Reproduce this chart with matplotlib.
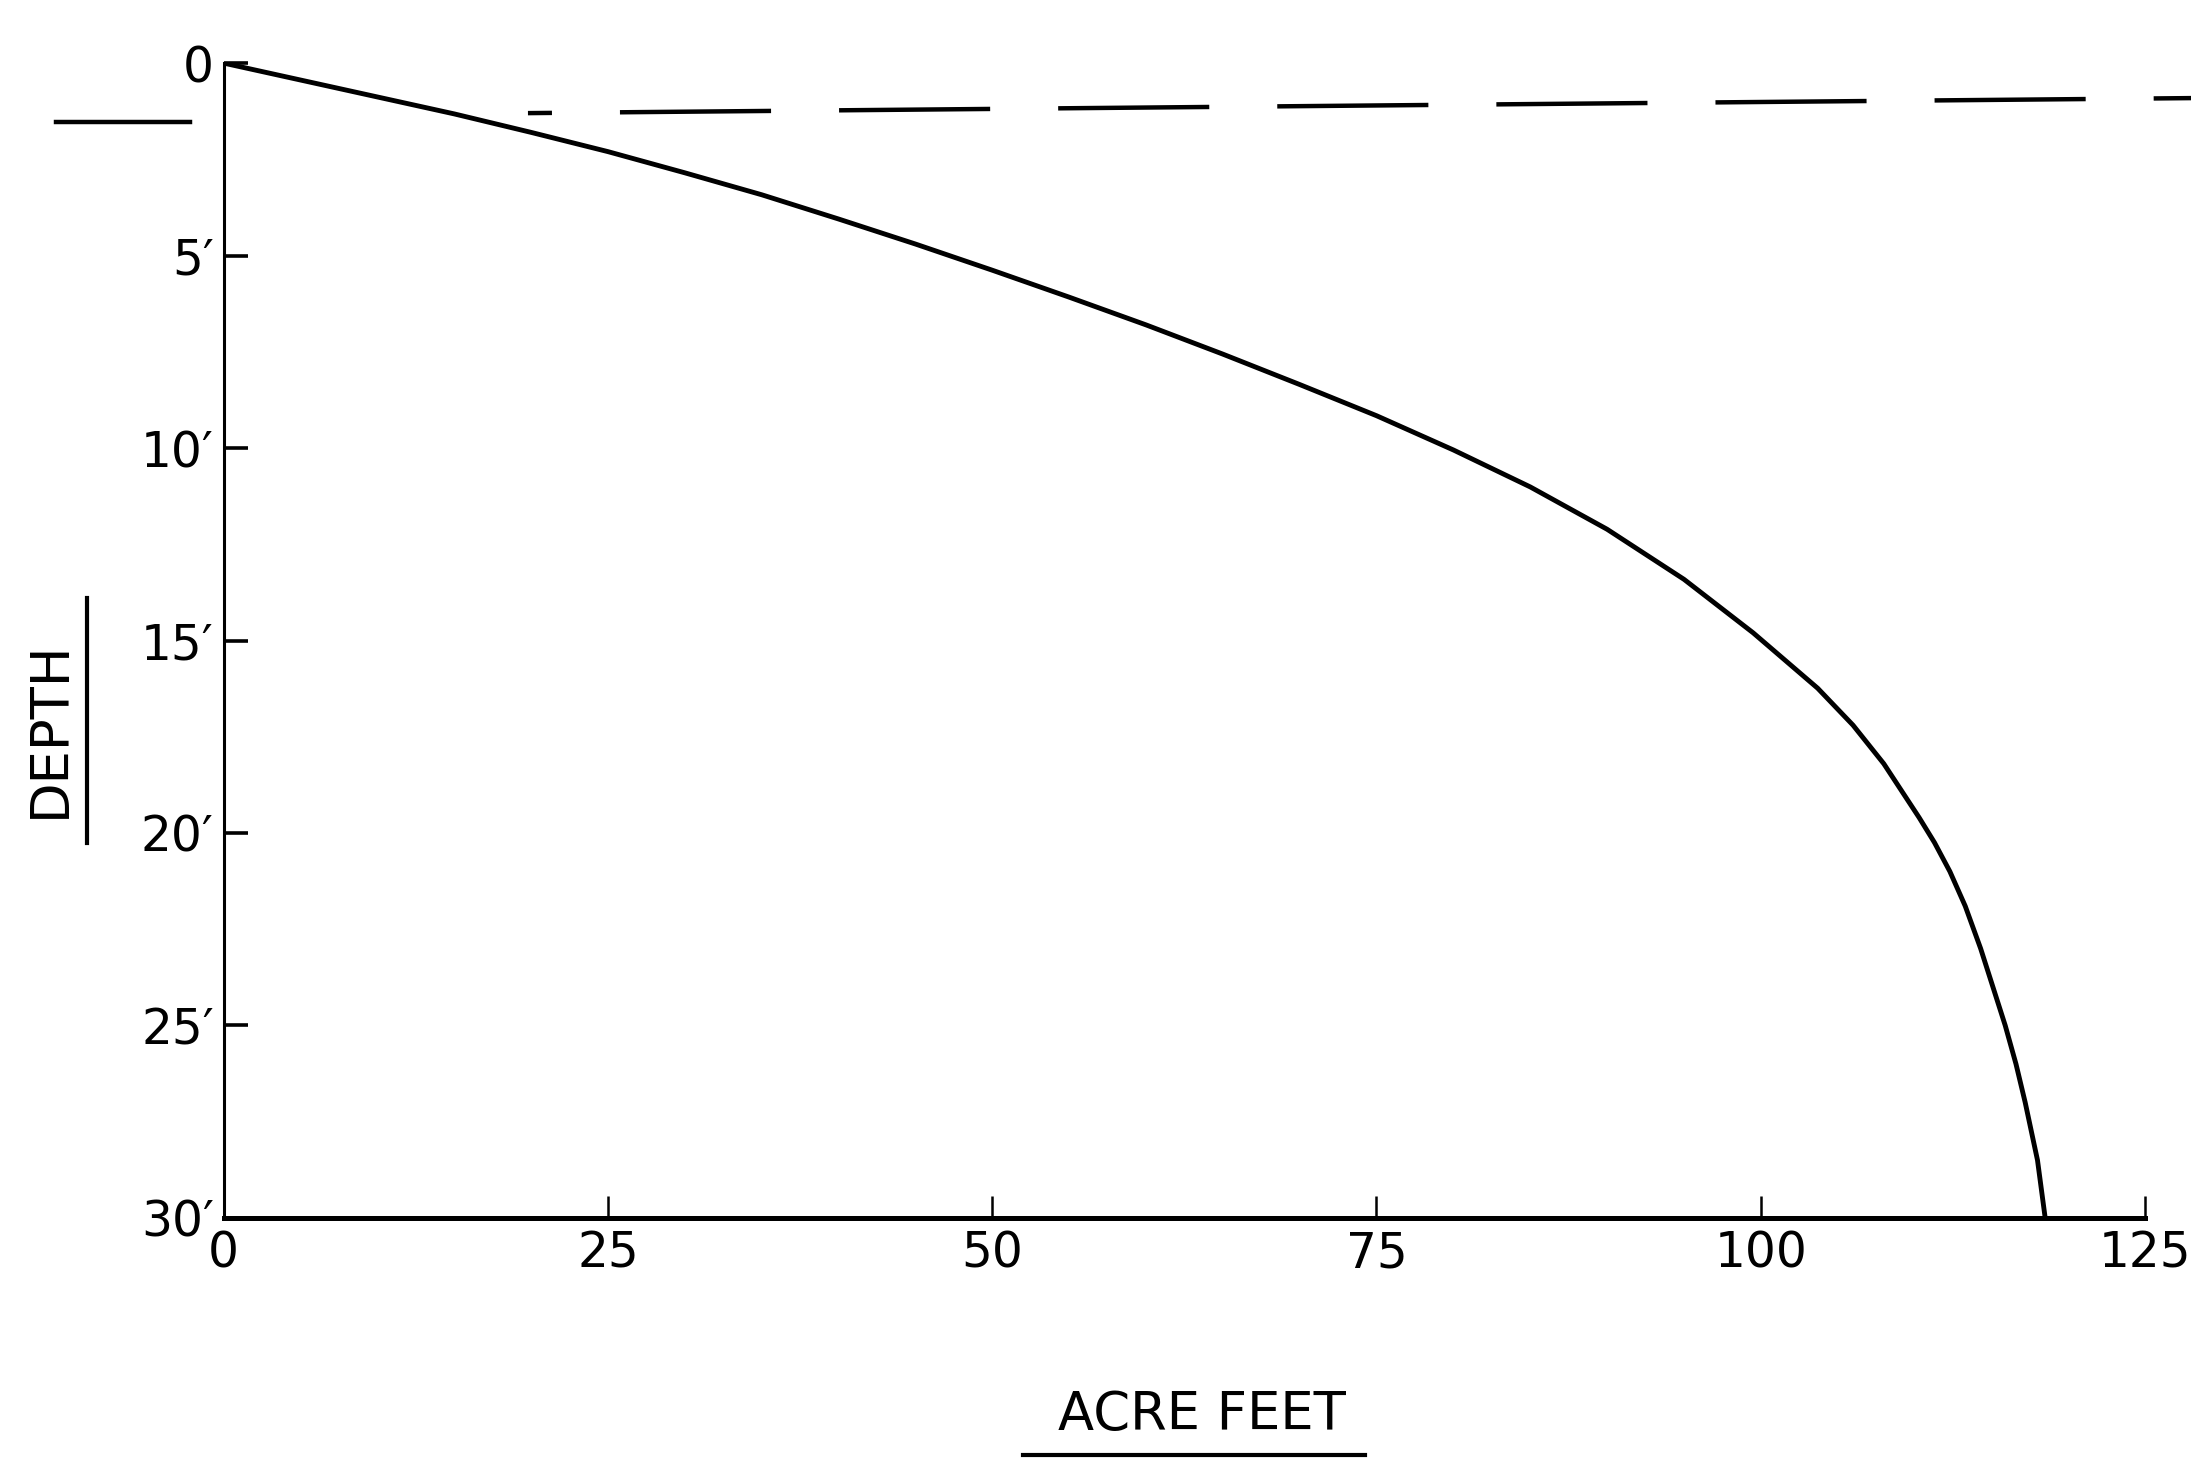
import matplotlib
matplotlib.use("Agg")
import matplotlib.pyplot as plt
from matplotlib.lines import Line2D

#------------------------------------
#--------- DATOS
#------------------------------------
# Curva profundidad - volumen
acre_pies = [0, 5, 10, 15, 20, 25, 30, 35, 40, 45, 50, 55, 60, 65, 70, 75, 80,
             85, 90, 95, 99.5, 103.7, 106, 108, 110.3, 111.3, 112.3, 113.3,
             114.3, 115.1, 115.9, 116.6, 117.2, 118.0, 118.5]
profundidad = [0, 0.44, 0.88, 1.32, 1.80, 2.30, 2.85, 3.42, 4.05, 4.70, 5.38,
               6.08, 6.80, 7.56, 8.35, 9.16, 10.05, 11.01, 12.11, 13.41, 14.8,
               16.24, 17.2, 18.2, 19.6, 20.25, 21.0, 21.9, 23.0, 24.0, 25.0,
               26.0, 27.0, 28.5, 30.0]

# Nivel de agua (linea discontinua) y marca a la izquierda del eje
nivel_x = [19.8, 128]
nivel_y = [1.30, 0.91]
marca_x = [-10.9, -2.2]
marca_y = [1.54, 1.54]

# Ejes
ticks_x = [0, 25, 50, 75, 100, 125]
etiquetas_x = ["0", "25", "50", "75", "100", "125"]
ticks_y = [0, 5, 10, 15, 20, 25, 30]
etiquetas_y = ["0", "5′", "10′", "15′", "20′", "25′", "30′"]

#------------------------------------
#--------- FIGURA
#------------------------------------
fig = plt.figure(figsize=(21.91, 14.60), dpi=100)
ax = fig.add_axes([0.10205, 0.1658, 0.8770, 0.7910])

# Curva
ax.plot(acre_pies, profundidad, color="black", linewidth=3.5,
        solid_capstyle="butt", solid_joinstyle="round")

# Nivel de agua
ax.plot(nivel_x, nivel_y, color="black", linewidth=3.2,
        linestyle=(28.6, (34.0, 15.3)), clip_on=False)
ax.plot(marca_x, marca_y, color="black", linewidth=3.2, clip_on=False)

ax.set_xlim(0, 125)
ax.set_ylim(30, 0)

# Espinas
for lado in ["top", "right"]:
    ax.spines[lado].set_visible(False)
ax.spines["left"].set_linewidth(2.2)
ax.spines["bottom"].set_linewidth(3.6)

ax.set_xticks(ticks_x)
ax.set_xticklabels(etiquetas_x)
ax.set_yticks(ticks_y)
ax.set_yticklabels(etiquetas_y)
ax.tick_params(axis="x", direction="in", length=16, width=1.8, pad=8, labelsize=35)
ax.tick_params(axis="y", direction="in", length=17, width=2.6, pad=7, labelsize=35)

#------------------------------------
#--------- TITULOS DE EJES (subrayados)
#------------------------------------
fig.text(1202 / 2191, 1 - 1415 / 1460, "ACRE FEET", fontsize=38,
         ha="center", va="center")
fig.add_artist(Line2D([1023 / 2191, 1365 / 2191], [1 - 1455 / 1460, 1 - 1455 / 1460],
                      color="black", linewidth=3))

fig.text(50 / 2191, 1 - 729 / 1460, "DEPTH", fontsize=38, rotation=90,
         ha="center", va="center")
fig.add_artist(Line2D([87 / 2191, 87 / 2191], [1 - 598 / 1460, 1 - 843 / 1460],
                      color="black", linewidth=3))

fig.savefig("out.png", dpi=100, facecolor="white")
